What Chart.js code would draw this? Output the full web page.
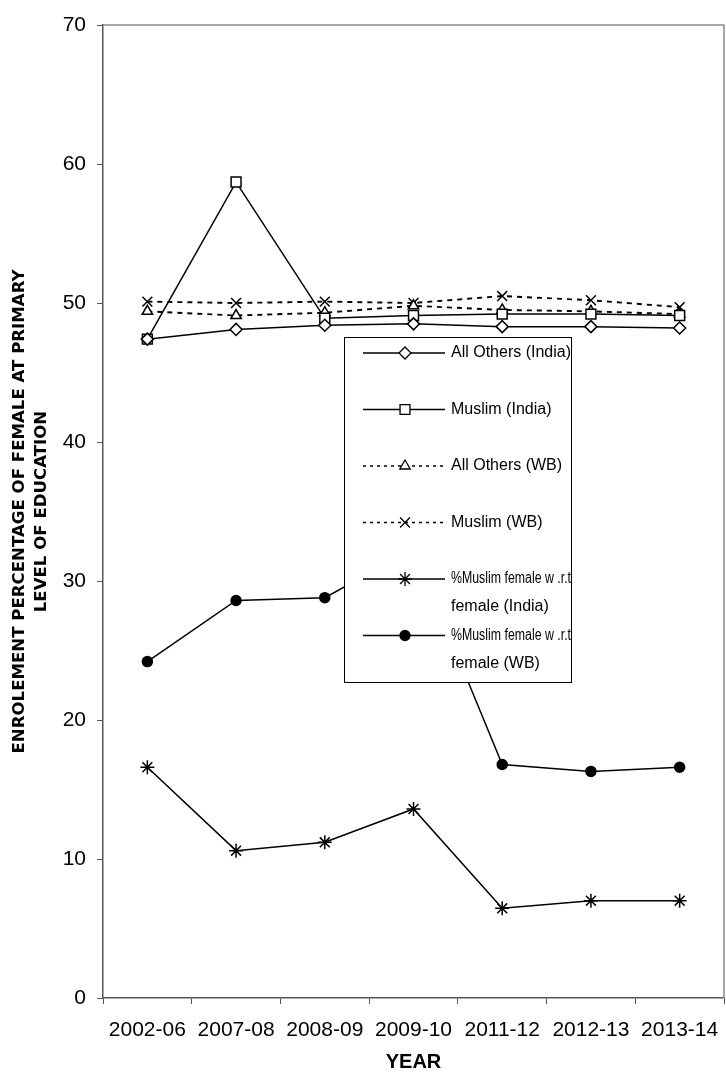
<!DOCTYPE html>
<html>
<head>
<meta charset="utf-8">
<title>Enrolement percentage of female at primary level</title>
<script src="https://cdn.jsdelivr.net/npm/chart.js@4.4.1/dist/chart.umd.min.js"></script>
<style>
    html, body { margin: 0; padding: 0; background: #fff; overflow: hidden; }
    #chartBox { width: 726px; height: 1074px; position: relative; }
    #chartBox canvas { display: block; }
</style>
</head>
<body>
<div id="chartBox"><canvas id="enrolChart"></canvas></div>
<script>
// values
var years = ['2002-06', '2007-08', '2008-09', '2009-10', '2011-12', '2012-13', '2013-14'];
var allOthersIndia = [47.4, 48.1, 48.4, 48.5, 48.3, 48.3, 48.2];
var muslimIndia = [47.4, 58.7, 48.9, 49.1, 49.2, 49.2, 49.1];
var allOthersWB = [49.4, 49.1, 49.3, 49.8, 49.5, 49.4, 49.2];
var muslimWB = [50.1, 50.0, 50.1, 50.0, 50.5, 50.2, 49.7];
var pctMuslimIndia = [16.6, 10.6, 11.2, 13.6, 6.45, 7.0, 7.0];
var pctMuslimWB = [24.2, 28.6, 28.8, 32.3, 16.8, 16.3, 16.6];
var yTicks = [0, 10, 20, 30, 40, 50, 60, 70];

var seriesLabels = [
    'All Others (India)',
    'Muslim (India)',
    'All Others (WB)',
    'Muslim (WB)',
    '%Muslim female w .r.t female (India)',
    '%Muslim female w .r.t female (WB)'
];

Chart.defaults.font.family = "'Liberation Sans', Arial, sans-serif";
Chart.defaults.color = '#000';

function makeSeries(label, values, style, radius, fill, dashed) {
    return {
        label: label,
        data: values,
        borderColor: '#000',
        borderWidth: dashed ? 1.9 : 1.5,
        borderDash: dashed ? [5, 5] : [],
        pointStyle: style,
        pointRadius: radius,
        pointHoverRadius: radius,
        pointBackgroundColor: fill,
        pointBorderColor: '#000',
        pointBorderWidth: 1.5,
        tension: 0,
        fill: false
    };
}

// frame around the plot (top and right sides are grey in the reference)
var plotFrame = {
    id: 'plotFrame',
    beforeDatasetsDraw: function (chart) {
        var a = chart.chartArea, ctx = chart.ctx;
        ctx.save();
        ctx.strokeStyle = '#8c8c8c';
        ctx.lineWidth = 1.5;
        ctx.beginPath();
        ctx.moveTo(a.left, a.top);
        ctx.lineTo(a.right, a.top);
        ctx.lineTo(a.right, a.bottom);
        ctx.stroke();
        ctx.restore();
    }
};

// boxed legend sitting inside the plot area
var boxLegend = {
    id: 'boxLegend',
    afterDatasetsDraw: function (chart, args, opts) {
        var ctx = chart.ctx;
        var x0 = opts.left, y0 = opts.top;
        var normalFont = opts.fontSize + "px 'Liberation Sans', Arial, sans-serif";
        var narrowFont = opts.fontSize + "px 'Liberation Sans Narrow', 'Arial Narrow', 'Liberation Sans', sans-serif";
        ctx.save();
        ctx.fillStyle = '#fff';
        ctx.strokeStyle = '#000';
        ctx.lineWidth = 1;
        ctx.fillRect(x0, y0, opts.width, opts.height);
        ctx.strokeRect(x0 + 0.5, y0 + 0.5, opts.width, opts.height);
        ctx.textBaseline = 'middle';
        chart.data.datasets.forEach(function (ds, i) {
            var cy = y0 + opts.firstRow + i * opts.rowGap;
            ctx.strokeStyle = '#000';
            ctx.lineWidth = 1.3;
            ctx.setLineDash(ds.borderDash.length ? [3, 4] : []);
            ctx.beginPath();
            ctx.moveTo(x0 + opts.sampleFrom, cy);
            ctx.lineTo(x0 + opts.sampleTo, cy);
            ctx.stroke();
            ctx.setLineDash([]);
            ctx.fillStyle = ds.pointBackgroundColor;
            Chart.helpers.drawPoint(ctx, {
                pointStyle: ds.pointStyle,
                radius: ds.pointRadius,
                rotation: 0,
                borderWidth: 1.3
            }, x0 + opts.markerAt, cy);
            // long labels break before "female (...)"
            ctx.fillStyle = '#000';
            var lines = ds.label.split(/ (?=female \()/);
            lines.forEach(function (t, k) {
                ctx.font = normalFont;
                if (ctx.measureText(t).width > opts.textWidth) ctx.font = narrowFont;
                ctx.fillText(t, x0 + opts.textAt, cy + k * opts.lineGap, opts.textWidth);
            });
        });
        ctx.restore();
    }
};

var datasets = [
    makeSeries(seriesLabels[0], allOthersIndia, 'rectRot', 6, '#fff', false),
    makeSeries(seriesLabels[1], muslimIndia, 'rect', 7, '#fff', false),
    makeSeries(seriesLabels[2], allOthersWB, 'triangle', 6, '#fff', true),
    makeSeries(seriesLabels[3], muslimWB, 'crossRot', 7, '#fff', true),
    makeSeries(seriesLabels[4], pctMuslimIndia, 'star', 7, '#000', false),
    makeSeries(seriesLabels[5], pctMuslimWB, 'circle', 5, '#000', false)
];

new Chart(document.getElementById('enrolChart').getContext('2d'), {
    type: 'line',
    data: {
        labels: years,
        datasets: datasets
    },
    options: {
        responsive: true,
        maintainAspectRatio: false,
        animation: false,
        layout: {
            autoPadding: false,
            padding: { top: 25, right: 2, left: 0, bottom: 0 }
        },
        plugins: {
            legend: { display: false },
            tooltip: { enabled: false },
            boxLegend: {
                left: 344, top: 337, width: 227, height: 345,
                firstRow: 16, rowGap: 56.5, lineGap: 28,
                sampleFrom: 19, sampleTo: 101, markerAt: 61,
                textAt: 107, textWidth: 120, fontSize: 16
            }
        },
        scales: {
            x: {
                offset: true,
                grid: {
                    offset: true,
                    drawOnChartArea: false,
                    drawTicks: true,
                    tickLength: 6,
                    color: '#555'
                },
                border: { display: true, color: '#555', width: 1.5 },
                ticks: {
                    font: { size: 21, lineHeight: 2.05 },
                    padding: 5,
                    maxRotation: 0,
                    autoSkip: false
                },
                title: {
                    display: true,
                    text: 'YEAR',
                    font: { size: 20, weight: 'bold', lineHeight: 1.2 },
                    padding: { top: 0, bottom: 0 }
                },
                afterFit: function (scale) { scale.height = 76; }
            },
            y: {
                min: 0,
                max: 70,
                afterBuildTicks: function (scale) {
                    scale.ticks = yTicks.map(function (v) { return { value: v }; });
                },
                grid: {
                    drawOnChartArea: false,
                    drawTicks: true,
                    tickLength: 6,
                    color: '#555'
                },
                border: { display: true, color: '#555', width: 1.5 },
                ticks: {
                    font: { size: 21 },
                    padding: 11
                },
                title: {
                    display: true,
                    text: ['ENROLEMENT PERCENTAGE OF FEMALE AT PRIMARY', 'LEVEL OF EDUCATION'],
                    font: { family: "'DejaVu Sans', sans-serif", size: 16.6, weight: 'bold', lineHeight: 1.33 },
                    padding: { top: 9, bottom: 0 }
                },
                afterFit: function (scale) { scale.width = 103; }
            }
        }
    },
    plugins: [plotFrame, boxLegend]
});
</script>
</body>
</html>
